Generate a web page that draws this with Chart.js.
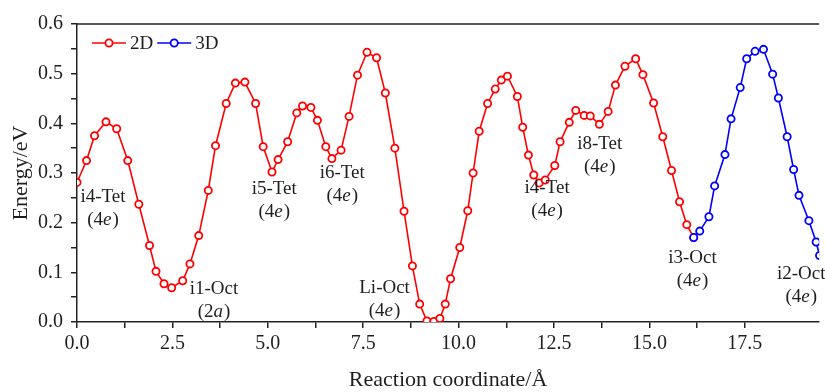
<!DOCTYPE html>
<html>
<head>
<meta charset="utf-8">
<script src="https://cdn.jsdelivr.net/npm/chart.js@4.4.1/dist/chart.umd.min.js"></script>
<style>
  body { margin: 0; background: #fff; }
  #wrap { width: 825px; height: 392px; }
</style>
</head>
<body>
<div id="wrap"><canvas id="myChart" width="825" height="392"></canvas></div>
<script>
// reaction path, 2D part (red) and 3D part (blue)
const coord2D = [0.00, 0.25, 0.46, 0.76, 1.04, 1.33, 1.62, 1.90, 2.07, 2.28, 2.48, 2.77, 2.96, 3.19,
  3.44, 3.63, 3.91, 4.15, 4.40, 4.68, 4.88, 5.11, 5.27, 5.52, 5.76, 5.91, 6.13, 6.30, 6.52, 6.68,
  6.92, 7.13, 7.35, 7.60, 7.85, 8.08, 8.33, 8.57, 8.79, 8.98, 9.17, 9.35, 9.51, 9.65, 9.79, 10.03,
  10.24, 10.38, 10.54, 10.76, 10.96, 11.12, 11.28, 11.54, 11.68, 11.83, 11.97, 12.11, 12.27, 12.52,
  12.66, 12.90, 13.07, 13.29, 13.45, 13.69, 13.92, 14.11, 14.36, 14.64, 14.83, 15.11, 15.35, 15.58,
  15.79, 15.98, 16.16];
const energy2D = [0.281, 0.325, 0.375, 0.403, 0.389, 0.325, 0.237, 0.154, 0.102, 0.077, 0.069, 0.083, 0.117, 0.174,
  0.265, 0.355, 0.440, 0.481, 0.483, 0.440, 0.353, 0.302, 0.327, 0.363, 0.421, 0.435, 0.432, 0.406, 0.353, 0.329,
  0.346, 0.414, 0.497, 0.543, 0.532, 0.461, 0.350, 0.223, 0.113, 0.036, 0.002, 0.001, 0.007, 0.036, 0.087, 0.150,
  0.224, 0.300, 0.384, 0.440, 0.469, 0.487, 0.495, 0.454, 0.392, 0.336, 0.296, 0.280, 0.286, 0.315,
  0.363, 0.402, 0.426, 0.416, 0.415, 0.398, 0.424, 0.477, 0.515, 0.530, 0.498, 0.441, 0.373, 0.305,
  0.242, 0.196, 0.170];
const coord3D = [16.16, 16.32, 16.56, 16.71, 16.98, 17.14, 17.38, 17.55, 17.77, 17.99, 18.23, 18.38,
  18.61, 18.78, 18.92, 19.18, 19.37, 19.46];
const energy3D = [0.170, 0.183, 0.212, 0.274, 0.337, 0.409, 0.472, 0.530, 0.545, 0.549, 0.499, 0.451,
  0.373, 0.307, 0.255, 0.204, 0.161, 0.134];

// site labels along the path
const siteNames = ['i4-Tet', 'i1-Oct', 'i5-Tet', 'i6-Tet', 'Li-Oct', 'i4-Tet', 'i8-Tet', 'i3-Oct', 'i2-Oct'];
const siteWyckoff = ['4e', '2a', '4e', '4e', '4e', '4e', '4e', '4e', '4e'];
const siteX = [0.68, 3.59, 5.17, 6.95, 8.06, 12.32, 13.70, 16.13, 18.98];
const siteY = [0.252, 0.067, 0.268, 0.299, 0.069, 0.269, 0.358, 0.128, 0.097];

const SERIF = "'Liberation Serif', 'Times New Roman', serif";
Chart.defaults.font.family = SERIF;
Chart.defaults.color = '#000';

const toXY = (xs, ys) => xs.map((x, i) => ({ x: x, y: ys[i] }));

const siteLabels = {
  id: 'siteLabels',
  afterDatasetsDraw(chart) {
    const { ctx, scales: { x, y } } = chart;
    ctx.save();
    ctx.fillStyle = '#1e1e1e';
    ctx.textBaseline = 'middle';
    const normal = '19px ' + SERIF;
    const italic = 'italic 19px ' + SERIF;
    siteNames.forEach((name, i) => {
      const px = x.getPixelForValue(siteX[i]);
      const py = y.getPixelForValue(siteY[i]);
      ctx.font = normal;
      ctx.textAlign = 'center';
      ctx.fillText(name, px, py);
      // second line: (4e) with italic letter
      const w = siteWyckoff[i];
      const num = '(' + w.slice(0, -1);
      const let_ = w.slice(-1);
      ctx.font = normal;
      const w1 = ctx.measureText(num).width;
      const w3 = ctx.measureText(')').width;
      ctx.font = italic;
      const w2 = ctx.measureText(let_).width + 1;
      const sx = px - (w1 + w2 + w3) / 2;
      const sy = py + 23;
      ctx.textAlign = 'left';
      ctx.font = normal;
      ctx.fillText(num, sx, sy);
      ctx.font = italic;
      ctx.fillText(let_, sx + w1, sy);
      ctx.font = normal;
      ctx.fillText(')', sx + w1 + w2, sy);
    });
    ctx.restore();
  }
};

const boxAndLegend = {
  id: 'boxAndLegend',
  afterDraw(chart) {
    const { ctx, chartArea: a } = chart;
    ctx.save();
    // top frame line
    ctx.strokeStyle = '#222';
    ctx.lineWidth = 1.5;
    ctx.beginPath();
    ctx.moveTo(a.left, a.top);
    ctx.lineTo(a.right, a.top);
    ctx.stroke();
    // legend: line + open circle + label
    let lx = a.left + 15;
    const ly = a.top + 19;
    ctx.font = '19px ' + SERIF;
    ctx.textBaseline = 'middle';
    ctx.textAlign = 'left';
    [chart.data.datasets[0], chart.data.datasets[1]].forEach(ds => {
      ctx.strokeStyle = ds.borderColor;
      ctx.lineWidth = 1.6;
      ctx.beginPath();
      ctx.moveTo(lx, ly);
      ctx.lineTo(lx + 34, ly);
      ctx.stroke();
      ctx.beginPath();
      ctx.arc(lx + 17, ly, 3.6, 0, Math.PI * 2);
      ctx.fillStyle = '#fff';
      ctx.fill();
      ctx.lineWidth = 1.8;
      ctx.stroke();
      ctx.fillStyle = '#1e1e1e';
      ctx.fillText(ds.label, lx + 38, ly + 1);
      lx += 38 + ctx.measureText(ds.label).width + 4;
    });
    ctx.restore();
  }
};

const ctx = document.getElementById('myChart');

const myChart = new Chart(ctx, {
  type: 'line',
  data: {
    datasets: [{
      label: '2D',
      data: toXY(coord2D, energy2D),
      borderColor: '#ff0000',
      backgroundColor: '#ffffff',
      borderWidth: 1.6,
      pointRadius: 3.6,
      pointBorderWidth: 1.8,
      pointBackgroundColor: '#ffffff',
      pointBorderColor: '#ff0000',
      tension: 0,
      fill: false,
      order: 1
    }, {
      label: '3D',
      data: toXY(coord3D, energy3D),
      borderColor: '#0000ff',
      backgroundColor: '#ffffff',
      borderWidth: 1.6,
      pointRadius: 3.6,
      pointBorderWidth: 1.8,
      pointBackgroundColor: '#ffffff',
      pointBorderColor: '#0000ff',
      tension: 0,
      fill: false,
      order: 0
    }]
  },
  options: {
    responsive: false,
    animation: false,
    devicePixelRatio: 1,
    layout: { padding: { top: 24, right: 0, left: 0, bottom: 0 } },
    plugins: {
      legend: { display: false },
      tooltip: { enabled: false }
    },
    scales: {
      x: {
        type: 'linear',
        min: 0,
        max: 19.45,
        afterBuildTicks: (scale) => {
          scale.ticks = scale.ticks.filter(t => Math.abs(t.value / 1.25 - Math.round(t.value / 1.25)) < 1e-6);
        },
        afterFit: (scale) => { scale.height = 70; },
        ticks: {
          stepSize: 1.25,
          autoSkip: false,
          maxRotation: 0,
          padding: 4,
          font: { size: 20 },
          color: '#1e1e1e',
          callback: (v) => Math.abs(v / 2.5 - Math.round(v / 2.5)) < 1e-6 ? v.toFixed(1) : ''
        },
        grid: { drawOnChartArea: false, drawTicks: true, tickLength: 6, color: '#222', lineWidth: 1.5 },
        border: { display: true, color: '#222', width: 1.5 },
        title: {
          display: true,
          text: 'Reaction coordinate/Å',
          font: { size: 22 },
          color: '#1e1e1e',
          padding: { top: 0, bottom: -1 }
        }
      },
      y: {
        min: 0,
        max: 0.6,
        afterFit: (scale) => { scale.width = 77; },
        ticks: {
          stepSize: 0.05,
          autoSkip: false,
          padding: 8,
          font: { size: 20 },
          color: '#1e1e1e',
          callback: (v) => Math.abs(v * 10 - Math.round(v * 10)) < 1e-6 ? v.toFixed(1) : ''
        },
        grid: { drawOnChartArea: false, drawTicks: true, tickLength: 6, color: '#222', lineWidth: 1.5 },
        border: { display: true, color: '#222', width: 1.5 },
        title: {
          display: true,
          text: 'Energy/eV',
          font: { size: 22 },
          color: '#1e1e1e',
          padding: { top: 8, bottom: 0 }
        }
      }
    }
  },
  plugins: [siteLabels, boxAndLegend]
});
</script>
</body>
</html>
